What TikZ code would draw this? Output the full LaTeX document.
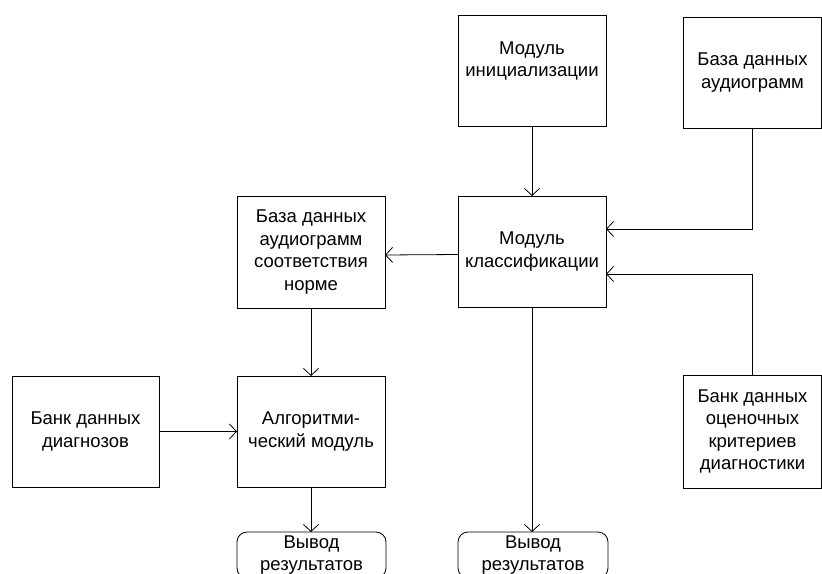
\documentclass[tikz,border=0pt]{standalone}
\usepackage{fontspec}
\setmainfont{Liberation Sans}
\usetikzlibrary{arrows.meta}
\begin{document}
\begin{tikzpicture}[x=1pt,y=-1pt,
  blk/.style={draw=black,line width=0.8pt,inner sep=0pt,outer sep=0pt,align=center,
    font=\fontsize{18.5}{22.6}\selectfont},
  outbox/.style={blk,rounded corners=10pt},
  conn/.style={draw=black,line width=0.8pt,-{Straight Barb[length=7pt,width=15pt,line width=0.8pt]}},
  line/.style={draw=black,line width=0.8pt}]
\useasboundingbox (0,0) rectangle (822,573);
\clip (0,0) rectangle (822,573);
\node[blk,minimum width=148pt,minimum height=111pt] (init) at (532,70.5) {Модуль\\инициализации\\\mbox{}};
\node[blk,minimum width=138pt,minimum height=111pt] (topdb) at (752.5,72.5) {База данных\\аудиограмм};
\node[blk,minimum width=148pt,minimum height=111pt] (cls) at (532,251.5) {Модуль\\классификации};
\node[blk,minimum width=148pt,minimum height=112pt] (norme) at (311,252) {База данных\\аудиограмм\\соответствия\\норме};
\node[blk,minimum width=148pt,minimum height=111pt] (algo) at (311,431.5) {Алгоритми-\\ческий модуль};
\node[blk,minimum width=147pt,minimum height=111pt] (diag) at (85.5,431.5) {Банк данных\\диагнозов};
\node[blk,minimum width=138pt,minimum height=113pt] (crit) at (752.5,431.5) {Банк данных\\оценочных\\критериев\\диагностики};
\node[outbox,minimum width=149pt,minimum height=46pt] (out1) at (311.5,555) {Вывод\\результатов};
\node[outbox,minimum width=150pt,minimum height=46pt] (out2) at (533,555) {Вывод\\результатов};
\draw[conn] (init.south) -- (cls.north);
\draw[conn] (topdb.south) |- ([yshift=22.5pt]cls.east);
\draw[conn] (crit.north) |- ([yshift=-22.5pt]cls.east);
\draw[conn] ([yshift=-3pt]cls.west) -- ([yshift=-3pt]norme.east);
\draw[conn] (norme.south) -- (algo.north);
\draw[conn] (diag.east) -- (algo.west);
\draw[conn] (algo.south) -- (algo.south |- out1.north);
\draw[conn] (cls.south) -- (cls.south |- out2.north);
\end{tikzpicture}
\end{document}
